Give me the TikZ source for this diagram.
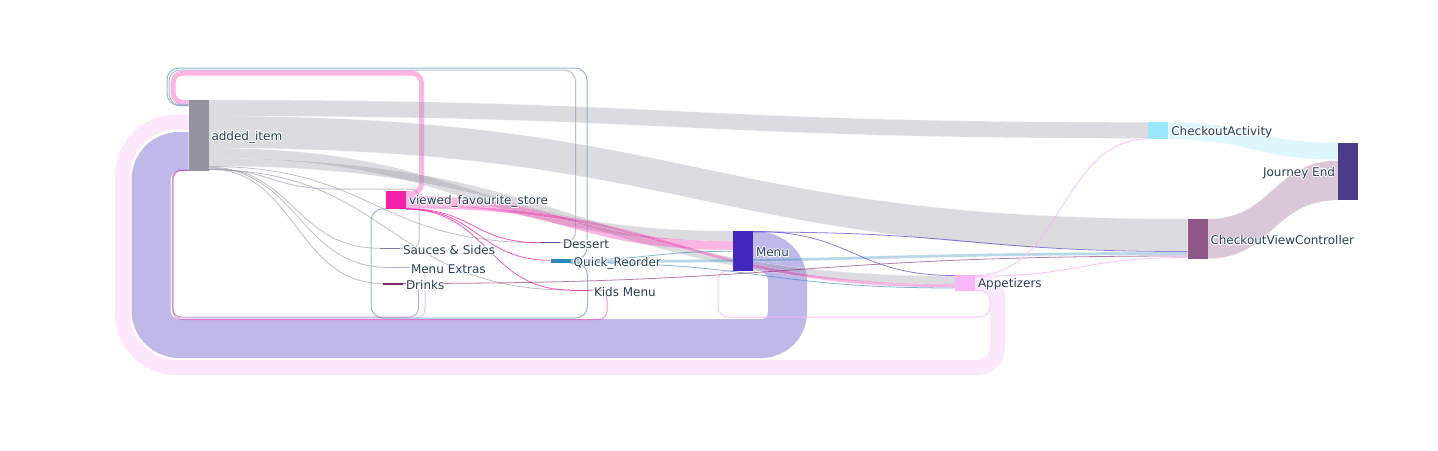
\documentclass[tikz,border=0pt]{standalone}
\usepackage{fontspec}
\setmainfont{DejaVu Sans}
\usepackage{contour}
\contourlength{0.8pt}
\usetikzlibrary{calc}
\pgfdeclarelayer{back}
\pgfdeclarelayer{bg}
\pgfsetlayers{back,bg,main}
\definecolor{cAI}{RGB}{150,147,160}
\definecolor{cVFS}{RGB}{242,35,168}
\definecolor{cSS}{RGB}{128,122,160}
\definecolor{cME}{RGB}{180,168,232}
\definecolor{cDR}{RGB}{130,40,110}
\definecolor{cDE}{RGB}{95,82,155}
\definecolor{cQR}{RGB}{47,134,185}
\definecolor{cKM}{RGB}{240,70,185}
\definecolor{cMN}{RGB}{67,40,192}
\definecolor{cAP}{RGB}{251,183,251}
\definecolor{cCA}{RGB}{155,233,253}
\definecolor{cCVC}{RGB}{143,88,136}
\definecolor{cJE}{RGB}{74,59,139}
\definecolor{txt}{RGB}{42,63,95}
\tikzset{
  nd/.style={rectangle, inner sep=0pt, outer sep=0pt, draw=none, minimum width=20pt},
  lbl/.style={font=\fontsize{12}{14}\selectfont, text=txt, inner sep=0pt, outer sep=0pt},
  band/.style={fill=#1, fill opacity=.33, draw=white, draw opacity=.45, line width=.4pt},
  thin/.style={draw=#1, line width=.8pt, draw opacity=.6},
  thinl/.style={draw=#1, line width=1pt, draw opacity=.55},
  lp/.style={draw=#1, draw opacity=.33, line cap=butt},
}
% forward band: src, src offset, tgt, tgt offset, width, style
\newcommand{\fband}[6]{%
\path[#6] let \p1=(#1.north east), \p2=(#3.north west) in
 (\x1,\y1-#2pt) .. controls ({0.5*\x1+0.5*\x2},\y1-#2pt) and ({0.5*\x1+0.5*\x2},\y2-#4pt) .. (\x2,\y2-#4pt)
 -- (\x2,\y2-#4pt-#5pt) .. controls ({0.5*\x1+0.5*\x2},\y2-#4pt-#5pt) and ({0.5*\x1+0.5*\x2},\y1-#2pt-#5pt) .. (\x1,\y1-#2pt-#5pt) -- cycle;}
% thin link: src, src offset, tgt, tgt offset, style
\newcommand{\tline}[5]{%
\draw[#5] let \p1=(#1.north east), \p2=(#3.north west) in
 (\x1,\y1-#2pt) .. controls ({0.5*\x1+0.5*\x2},\y1-#2pt) and ({0.5*\x1+0.5*\x2},\y2-#4pt) .. (\x2,\y2-#4pt);}
% loop below: style, src, srcoff, tgt, tgtoff, xR, yB, xL, r
\newcommand{\botloop}[9]{%
\draw[#1] let \p1=($(#2.north east)+(0,-#3)$), \p2=($(#4.north west)+(0,-#5)$) in
 (\p1) -- ({(#6-#9)*1pt},\y1) arc[start angle=90,end angle=0,radius=#9pt]
 -- (#6pt,{(-#7+#9)*1pt}) arc[start angle=0,end angle=-90,radius=#9pt]
 -- ({(#8+#9)*1pt},-#7pt) arc[start angle=-90,end angle=-180,radius=#9pt]
 -- (#8pt,\y2-#9pt) arc[start angle=180,end angle=90,radius=#9pt] -- (\p2);}
% loop above: style, src, srcoff, tgt, tgtoff, xR, yT, xL, r
\newcommand{\toploop}[9]{%
\draw[#1] let \p1=($(#2.north east)+(0,-#3)$), \p2=($(#4.north west)+(0,-#5)$) in
 (\p1) -- ({(#6-#9)*1pt},\y1) arc[start angle=-90,end angle=0,radius=#9pt]
 -- (#6pt,{(-#7-#9)*1pt}) arc[start angle=0,end angle=90,radius=#9pt]
 -- ({(#8+#9)*1pt},-#7pt) arc[start angle=90,end angle=180,radius=#9pt]
 -- (#8pt,\y2+#9pt) arc[start angle=180,end angle=270,radius=#9pt] -- (\p2);}
\begin{document}
\begin{tikzpicture}[x=1pt,y=1pt]
\begin{pgfonlayer}{back}
\fill[white] (0,0) rectangle (1438,-450);
\end{pgfonlayer}
\useasboundingbox (0,0) rectangle (1438,-450);
% nodes
\node[nd, fill=cAI, minimum height=71pt] (ai) at (198.5,-135.5) {};
\node[nd, fill=cVFS, minimum height=18.3pt] (vfs) at (396,-200.15) {};
\node[nd, fill=cSS, minimum height=1pt] (ss) at (390,-248.3) {};
\node[nd, fill=cME, minimum height=1pt] (me) at (399,-267.5) {};
\node[nd, fill=cDR, minimum height=2pt] (dr) at (393,-283.5) {};
\node[nd, fill=cDE, minimum height=1pt] (de) at (550,-242.7) {};
\node[nd, fill=cQR, minimum height=4pt] (qr) at (560.7,-261.3) {};
\node[nd, fill=cKM, minimum height=1pt] (km) at (580,-290) {};
\node[nd, fill=cMN, minimum height=39.7pt] (mn) at (743,-250.85) {};
\node[nd, fill=cAP, minimum height=16pt] (ap) at (965,-283) {};
\node[nd, fill=cCA, minimum height=17pt] (ca) at (1158.3,-130.8) {};
\node[nd, fill=cCVC, minimum height=39.7pt] (cvc) at (1197.5,-238.85) {};
\node[nd, fill=cJE, minimum height=57.6pt] (je) at (1348,-171.5) {};
% links
\begin{pgfonlayer}{bg}
\draw[lp=cAP, line width=15pt] let \p1=($(ap.north east)+(0,-8.5)$), \p2=($(ai.north west)+(0,-22)$) in
 (\p1) -- (984.5pt,\y1) arc[start angle=90,end angle=0,radius=13pt] -- (997.5pt,-347.5pt)
 arc[start angle=0,end angle=-90,radius=20pt] -- (176.5pt,-367.5pt)
 arc[start angle=-90,end angle=-180,radius=54pt] -- (122.5pt,\y2-54pt)
 arc[start angle=180,end angle=90,radius=54pt] -- (\p2);
\draw[lp=cMN, line width=39pt] let \p1=($(mn.north east)+(0,-20.2)$), \p2=($(ai.north west)+(0,-51.5)$) in
 (\p1) -- (757.5pt,\y1) arc[start angle=90,end angle=0,radius=30pt] -- (787.5pt,-312.5pt)
 arc[start angle=0,end angle=-90,radius=26pt] -- (179pt,-338.5pt)
 arc[start angle=-90,end angle=-180,radius=28pt] -- (151pt,\y2-28pt)
 arc[start angle=180,end angle=90,radius=28pt] -- (\p2);
\toploop{lp=cVFS, line width=5pt}{vfs}{2.5}{ai}{2.5}{421.5}{73}{173}{10}
\toploop{thinl=cQR}{qr}{0.3}{ai}{5.5}{587}{68}{167}{12}
\toploop{thinl=cDE, draw opacity=.4}{de}{0.5}{ai}{4.8}{575.5}{70}{169}{11}
\draw[thinl=cSS, draw opacity=.45] let \p1=($(ss.north east)+(0,-0.5)$), \p2=($(ai.north east)+(0,-69.3)$) in
 (\p1) -- (411pt,\y1) arc[start angle=-90,end angle=0,radius=8pt] -- (419pt,-197pt)
 arc[start angle=0,end angle=90,radius=8pt] -- (335pt,-189pt)
 .. controls (272pt,-189pt) and (272pt,\y2) .. (\p2);
\botloop{thinl=cQR}{qr}{3.7}{vfs}{17.8}{587.5}{318}{371}{12}
\botloop{thinl=cKM}{km}{0.5}{ai}{70.3}{607}{319.5}{173}{9}
\botloop{thinl=cDR, draw opacity=.4}{dr}{1}{ai}{70}{418.5}{317}{172.5}{9}
\botloop{thinl=cME}{me}{0.5}{ai}{69.5}{425}{318}{172}{9}
\botloop{thinl=cAP, draw opacity=.8}{ap}{15.5}{mn}{39.5}{990}{317}{718}{10}
\fband{ai}{0}{ca}{0}{16}{band=cAI}
\fband{ai}{16}{cvc}{0}{32}{band=cAI}
\fband{ai}{48}{mn}{0}{10}{band=cAI}
\fband{ai}{58}{ap}{1}{8}{band=cAI}
\fband{vfs}{5}{mn}{10}{9}{band=cVFS}
\fband{vfs}{14}{ap}{9}{3.5}{band=cVFS}
\fband{qr}{0.7}{cvc}{33}{3}{band=cQR}
\fband{ca}{0}{je}{0}{17}{band=cCA}
\fband{cvc}{0}{je}{17.9}{39.7}{band=cCVC}
\tline{ai}{66.5}{de}{0.5}{thin=cAI}
\tline{ai}{67.3}{ss}{0.5}{thin=cAI}
\tline{ai}{68.1}{me}{0.5}{thin=cAI}
\tline{ai}{68.9}{dr}{1}{thin=cAI}
\tline{ai}{69.7}{km}{0.5}{thin=cAI}
\tline{vfs}{17.6}{de}{0.5}{thin=cVFS, draw opacity=.75}
\tline{vfs}{17.9}{qr}{1}{thin=cVFS, draw opacity=.75}
\tline{vfs}{18.2}{km}{0.5}{thin=cVFS, draw opacity=.75}
\tline{mn}{0.4}{ap}{0.5}{thin=cMN}
\tline{mn}{1.0}{cvc}{32.5}{thin=cMN}
\tline{qr}{0.5}{mn}{20.3}{thin=cQR}
\tline{qr}{3.4}{ap}{13}{thin=cQR}
\tline{dr}{1}{cvc}{37}{thin=cDR}
\tline{ap}{0.5}{ca}{16.5}{thin=cAP, draw opacity=.9}
\tline{ap}{1.2}{cvc}{38.5}{thin=cAP, draw opacity=.9}
\end{pgfonlayer}
% labels
\node[lbl, anchor=west] (ai-t) at ([xshift=3pt,yshift=-2pt]ai.east) {\contour{white}{added\_item}};
\node[lbl, anchor=west] (vfs-t) at ([xshift=3pt,yshift=-2pt]vfs.east) {\contour{white}{viewed\_favourite\_store}};
\node[lbl, anchor=west] (ss-t) at ([xshift=3pt,yshift=-2pt]ss.east) {\contour{white}{Sauces \& Sides}};
\node[lbl, anchor=west] (me-t) at ([xshift=2pt,yshift=-2pt]me.east) {\contour{white}{Menu Extras}};
\node[lbl, anchor=west] (dr-t) at ([xshift=3pt,yshift=-2pt]dr.east) {\contour{white}{Drinks}};
\node[lbl, anchor=west] (de-t) at ([xshift=3pt,yshift=-2pt]de.east) {\contour{white}{Dessert}};
\node[lbl, anchor=west] (qr-t) at ([xshift=3pt,yshift=-2pt]qr.east) {\contour{white}{Quick\_Reorder}};
\node[lbl, anchor=west] (km-t) at ([xshift=4pt,yshift=-2pt]km.east) {\contour{white}{Kids Menu}};
\node[lbl, anchor=west] (mn-t) at ([xshift=3pt,yshift=-2pt]mn.east) {\contour{white}{Menu}};
\node[lbl, anchor=west] (ap-t) at ([xshift=3pt,yshift=-2pt]ap.east) {\contour{white}{Appetizers}};
\node[lbl, anchor=west] (ca-t) at ([xshift=3pt,yshift=-2pt]ca.east) {\contour{white}{CheckoutActivity}};
\node[lbl, anchor=west] (cvc-t) at ([xshift=3pt,yshift=-2pt]cvc.east) {\contour{white}{CheckoutViewController}};
\node[lbl, anchor=east] (je-t) at ([xshift=-3pt,yshift=-2pt]je.west) {\contour{white}{Journey End}};
\end{tikzpicture}
\end{document}
